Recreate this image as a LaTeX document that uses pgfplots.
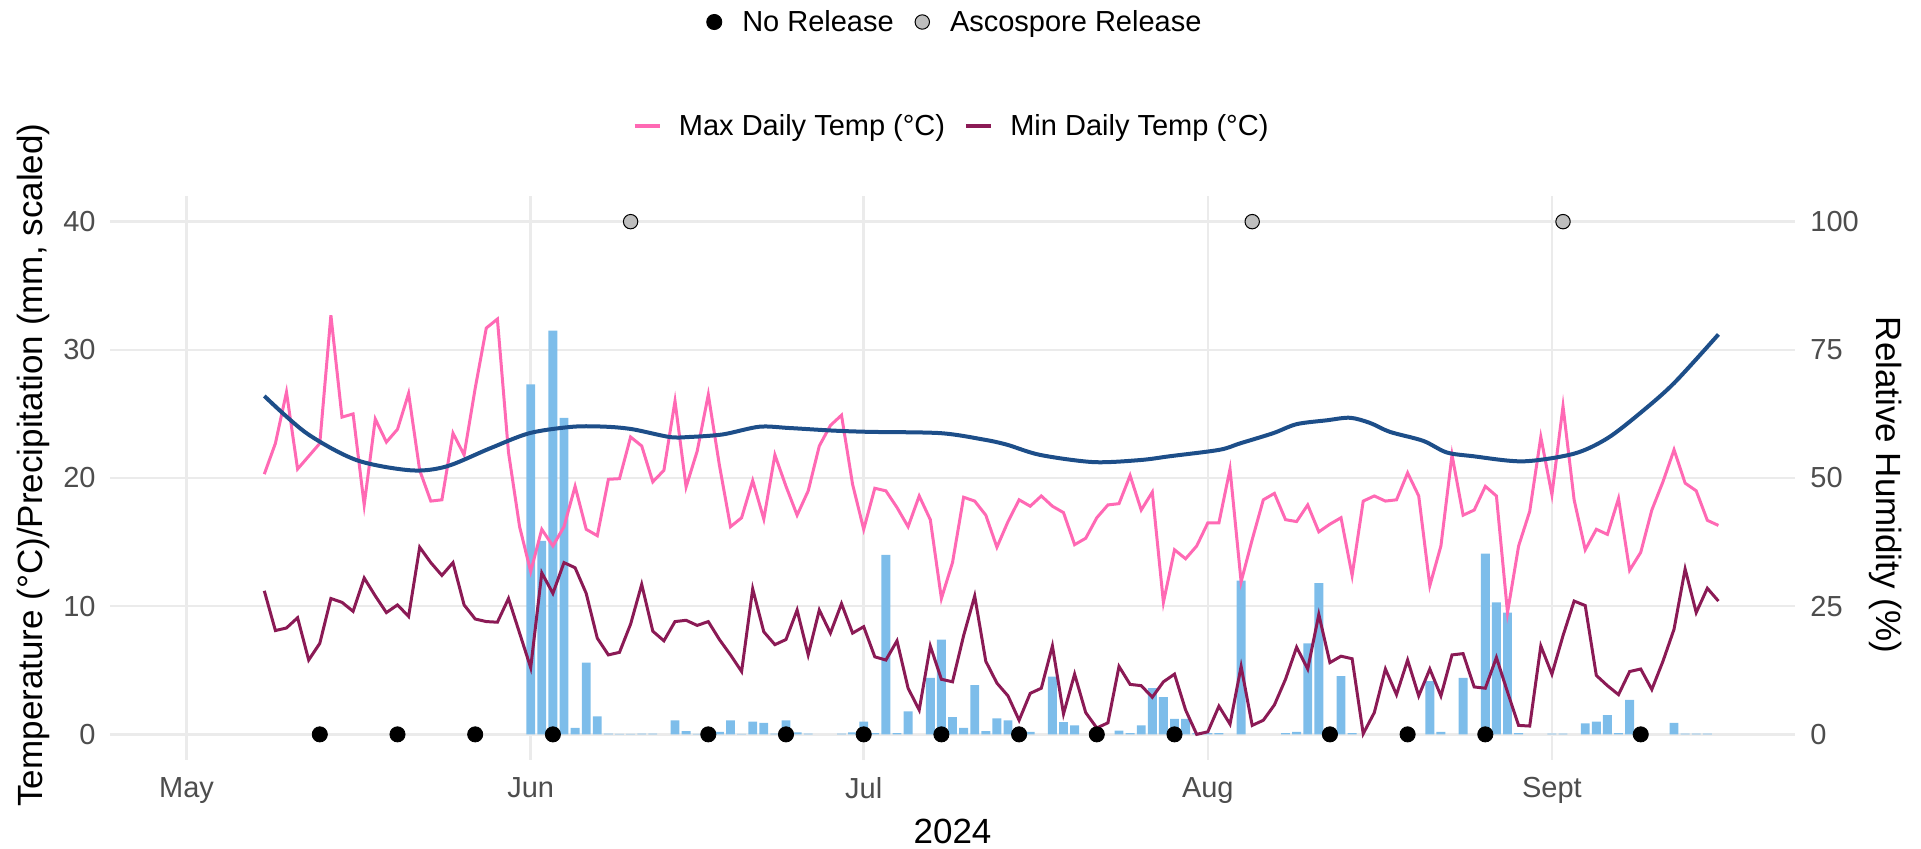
\documentclass[border=0pt]{standalone}
\usepackage{fontspec}
\setmainfont{Liberation Sans}
\usepackage{pgfplots}
\pgfplotsset{compat=1.18}
\usepackage{pgfplotstable}
\definecolor{maxpink}{HTML}{FF69B4}
\definecolor{minmaroon}{HTML}{8B1A55}
\definecolor{humblue}{HTML}{1D4E89}
\definecolor{barblue}{HTML}{7DBDEA}
\definecolor{gridgray}{HTML}{EBEBEB}
\definecolor{ticktext}{HTML}{4D4D4D}
\definecolor{relgray}{HTML}{BEBEBE}

\pgfplotstableread{
d tmax tmin
7 20.3 11.2
8 22.7 8.1
9 26.7 8.3
10 20.7 9.1
11 21.7 5.8
12 22.7 7.1
13 32.7 10.6
14 24.75 10.3
15 25.0 9.6
16 17.9 12.2
17 24.6 10.8
18 22.8 9.5
19 23.8 10.1
20 26.6 9.2
21 20.6 14.6
22 18.2 13.4
23 18.3 12.4
24 23.5 13.4
25 21.8 10.1
26 27.0 9.0
27 31.7 8.8
28 32.4 8.75
29 22.0 10.6
30 16.2 7.9
31 12.7 5.2
32 16.0 12.6
33 14.7 11.0
34 16.2 13.4
35 19.35 13.0
36 16.0 11.0
37 15.5 7.5
38 19.9 6.2
39 19.95 6.4
40 23.2 8.6
41 22.5 11.7
42 19.7 8.05
43 20.6 7.3
44 26.0 8.8
45 19.3 8.9
46 22.1 8.5
47 26.5 8.8
48 21.0 7.4
49 16.2 6.2
50 16.9 4.9
51 19.8 11.35
52 16.8 8.0
53 21.8 7.0
54 19.35 7.4
55 17.1 9.7
56 19.0 6.2
57 22.5 9.7
58 24.1 7.9
59 24.9 10.2
60 19.5 7.9
61 16.0 8.4
62 19.2 6.05
63 19.0 5.8
64 17.7 7.3
65 16.2 3.6
66 18.6 1.9
67 16.75 6.9
68 10.6 4.3
69 13.4 4.1
70 18.5 7.7
71 18.2 10.8
72 17.1 5.7
73 14.6 4.0
74 16.6 3.0
75 18.3 1.1
76 17.8 3.2
77 18.6 3.6
78 17.8 6.9
79 17.3 1.6
80 14.8 4.7
81 15.3 1.7
82 16.9 0.5
83 17.9 0.9
84 18.0 5.3
85 20.2 3.9
86 17.5 3.8
87 18.9 2.9
88 10.3 4.1
89 14.4 4.7
90 13.7 1.9
91 14.7 0.0
92 16.5 0.2
93 16.5 2.2
94 20.7 0.8
95 11.9 5.3
96 15.2 0.7
97 18.3 1.1
98 18.8 2.3
99 16.75 4.3
100 16.6 6.8
101 17.9 5.1
102 15.8 9.35
103 16.4 5.6
104 16.9 6.1
105 12.4 5.9
106 18.2 0.05
107 18.6 1.7
108 18.2 5.1
109 18.3 3.1
110 20.4 5.8
111 18.6 3.0
112 11.6 5.1
113 14.7 3.0
114 21.8 6.2
115 17.1 6.3
116 17.5 3.7
117 19.35 3.6
118 18.6 6.0
119 9.5 3.3
120 14.7 0.7
121 17.4 0.65
122 23.2 6.9
123 18.7 4.7
124 25.6 7.7
125 18.3 10.4
126 14.4 10.05
127 16.0 4.6
128 15.6 3.8
129 18.4 3.1
130 12.8 4.9
131 14.2 5.1
132 17.5 3.5
133 19.7 5.7
134 22.2 8.2
135 19.6 12.9
136 19.0 9.5
137 16.7 11.4
138 16.3 10.4
}\temps

\pgfplotstableread{
d prec
31 27.3
32 15.1
33 31.5
34 24.7
35 0.5
36 5.6
37 1.4
38 0.05
39 0.03
40 0.03
41 0.05
42 0.05
44 1.1
45 0.25
46 0.03
47 0.03
48 0.2
49 1.1
50 0.03
51 1.0
52 0.9
53 0.05
54 1.1
55 0.15
56 0.05
59 0.05
60 0.15
61 1.0
62 0.1
63 14.0
64 0.1
65 1.8
67 4.4
68 7.4
69 1.35
70 0.5
71 3.85
72 0.25
73 1.25
74 1.1
76 0.2
78 4.5
79 0.95
80 0.7
84 0.3
85 0.1
86 0.7
87 3.6
88 2.9
89 1.2
90 1.2
91 0.1
92 0.1
93 0.1
95 12.0
99 0.1
100 0.2
101 7.1
102 11.8
104 4.55
105 0.1
112 4.15
113 0.2
115 4.4
117 14.1
118 10.3
119 9.5
120 0.1
123 0.05
124 0.05
126 0.85
127 1.0
128 1.5
129 0.1
130 2.7
131 0.05
134 0.9
135 0.05
136 0.05
137 0.05
}\prec

\pgfplotstableread{
d rh
7 66
10.8 58.75
15.3 53.5
20.2 51.5
23.4 52.25
27.3 55.75
30.9 58.75
34.8 60
37.8 60
40.2 59.5
43.5 58
45.3 58
48.3 58.5
51.6 60
54.3 59.75
58.2 59.25
61.5 59
67.9 58.75
71.8 57.5
73.9 56.5
76.9 54.5
81.7 53.1
85.9 53.5
88.6 54.25
93.05 55.5
94.9 56.75
97.9 58.75
100 60.5
102.7 61.25
104.8 61.75
106.6 60.75
108.4 59
111.4 57.25
113.5 55
115.9 54.25
120.4 53.25
125 54.75
128 57.75
131 62.75
134 68.5
138 78
}\humid

\begin{document}
\begin{tikzpicture}
\begin{axis}[
  at={(0,0)}, anchor=south west,
  scale only axis, width=842.5pt, height=282pt,
  xmin=-6.9, xmax=144.9, ymin=-2, ymax=42,
  xtick={0,31,61,92,123}, xticklabels={May,Jun,Jul,Aug,Sept},
  ytick={0,10,20,30,40},
  grid=major, major grid style={draw=gridgray, line width=1.3pt},
  axis line style={draw=none}, tick style={draw=none},
  ticklabel style={font=\fontsize{14.5}{17}\selectfont, text=ticktext},
  /pgf/number format/assume math mode=true,
  yticklabel style={xshift=-3.7pt},
  xticklabel style={yshift=-5.2pt},
  xlabel={2024},
  ylabel={Temperature (°C)/Precipitation (mm, scaled)},
  label style={font=\fontsize{17.5}{21}\selectfont},
  xlabel style={at={([yshift=-35.5pt]axis description cs:0.5,0)}, anchor=center},
  ylabel style={at={([xshift=-38.5pt]axis description cs:0,0.523)}, anchor=center},
  legend style={at={(0.5,1.1241)}, anchor=center, draw=none, fill=none,
    legend columns=-1, font=\fontsize{14.5}{17}\selectfont,
    /tikz/every odd column/.append style={column sep=6.7pt},
    /tikz/every even column/.append style={column sep=7.4pt}},
  legend cell align=left,
  legend image code/.code={\draw[#1, line width=2pt] (0pt,0pt) -- (12.5pt,0pt);},
]
\addplot[ybar, bar width=0.8, fill=barblue, draw=none, forget plot] table[x=d, y=prec] {\prec};
\addplot[maxpink, line width=1.5pt] table[x=d, y=tmax] {\temps};
\addlegendentry{Max Daily Temp (°C)}
\addplot[minmaroon, line width=1.5pt] table[x=d, y=tmin] {\temps};
\addlegendentry{Min Daily Temp (°C)}
\addplot[only marks, mark=*, mark size=3.8pt, mark options={fill=black, draw=black}, forget plot]
  coordinates {(12,0) (19,0) (26,0) (33,0) (47,0) (54,0) (61,0) (68,0) (75,0) (82,0) (89,0) (103,0) (110,0) (117,0) (131,0)};
\addplot[only marks, mark=*, mark size=3.6pt, mark options={fill=relgray, draw=black, line width=0.5pt}, forget plot]
  coordinates {(40,40) (96,40) (124,40)};
\end{axis}
\begin{axis}[
  at={(0,0)}, anchor=south west,
  scale only axis, width=842.5pt, height=282pt,
  xmin=-6.9, xmax=144.9, ymin=-5, ymax=105,
  axis x line=none, xtick=\empty,
  axis y line*=right,
  ytick={0,25,50,75,100},
  axis line style={draw=none}, tick style={draw=none},
  ticklabel style={font=\fontsize{14.5}{17}\selectfont, text=ticktext},
  /pgf/number format/assume math mode=true,
  yticklabel style={xshift=4.2pt},
  ylabel={Relative Humidity (\%)},
  label style={font=\fontsize{17.5}{21}\selectfont},
  ylabel style={at={([xshift=45.5pt]axis description cs:1,0.4876)}, anchor=center, rotate=180},
  legend style={at={(0.502,1.3085)}, anchor=center, draw=none, fill=none,
    legend columns=-1, font=\fontsize{14.5}{17}\selectfont,
    /tikz/every odd column/.append style={column sep=8pt},
    /tikz/every even column/.append style={column sep=8.4pt}},
  legend cell align=left,
]
\addplot[humblue, line width=2pt, smooth, tension=0.5, forget plot] table[x=d, y=rh] {\humid};
\addlegendimage{legend image code/.code={\fill[black] (4pt,0pt) circle (3.8pt);}}
\addlegendentry{No Release}
\addlegendimage{legend image code/.code={\filldraw[fill=relgray, draw=black, line width=0.5pt] (4pt,0pt) circle (3.6pt);}}
\addlegendentry{Ascospore Release}
\end{axis}
\pgfresetboundingbox
\useasboundingbox (-55pt,-44pt) rectangle (905.5pt,380pt);
\end{tikzpicture}
\end{document}
